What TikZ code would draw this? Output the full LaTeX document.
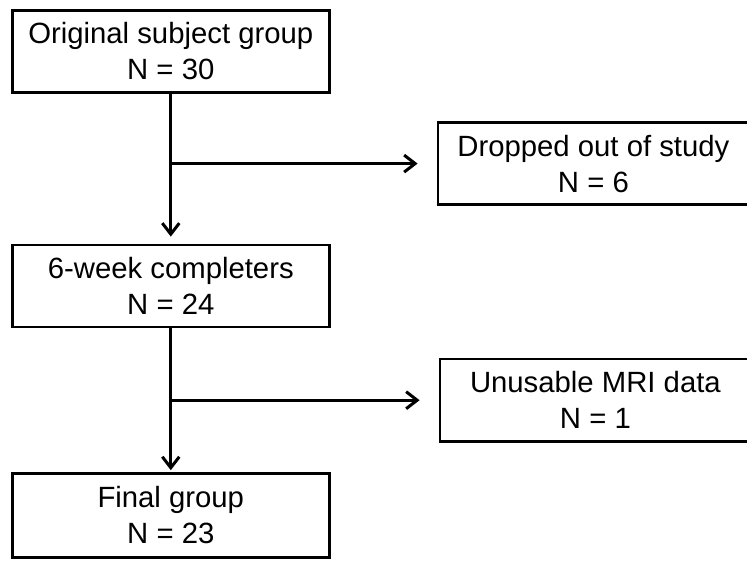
\documentclass[tikz,border=0pt]{standalone}
\usepackage{fontspec}
\setmainfont{Liberation Sans}
\usetikzlibrary{arrows.meta,positioning}

\begin{document}
\begin{tikzpicture}[
  node distance=150pt and 108pt,
  stage/.style={rectangle,draw=black,line width=2.6pt,minimum width=317pt,
    minimum height=82pt,align=center,inner sep=2pt,font=\fontsize{29.3}{36}\selectfont},
  excl/.style={stage,minimum width=311pt},
  flow/.style={black,line width=3pt,-{Straight Barb[length=11pt,width=17pt]}}]
  \path[use as bounding box,clip] (0,0) rectangle (747pt,560pt);
  \node[stage,anchor=north west] (orig) at (11pt,551pt) {Original subject group\\N = 30};
  \node[stage,below=150pt of orig] (compl) {6-week completers\\N = 24};
  \node[stage,minimum height=84pt,below=144pt of compl] (final) {Final group\\N = 23};
  \node[excl,below right=70pt and 106pt of orig.east] (drop) {Dropped out of study\\N = 6};
  \node[excl,below right=72pt and 108pt of compl.east] (mri) {Unusable MRI data\\N = 1};
  \draw[flow,shorten >=7pt] (orig) -- (compl);
  \draw[flow,shorten >=2pt] (compl) -- (final);
  \draw[flow,shorten >=19pt] (orig.south |- drop.west) -- (drop.west);
  \draw[flow,shorten >=19pt] (compl.south |- mri.west) -- (mri.west);
\end{tikzpicture}
\end{document}
